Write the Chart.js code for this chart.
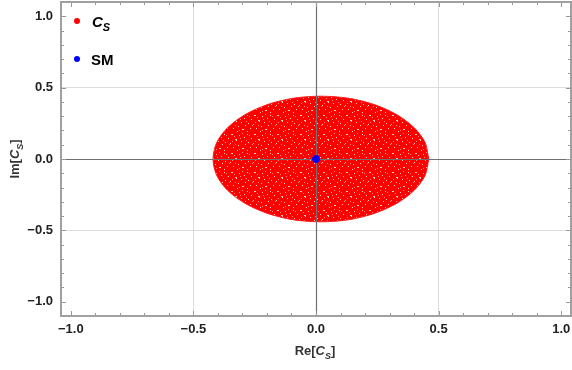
<!DOCTYPE html>
<html>
<head>
<meta charset="utf-8">
<script src="https://cdn.jsdelivr.net/npm/chart.js@4.4.1/dist/chart.umd.min.js"></script>
<style>
  html, body { margin: 0; padding: 0; background: #fff; }
  #wrap { width: 572px; height: 370px; }
</style>
</head>
<body>
<div id="wrap"><canvas id="chart" width="572" height="370"></canvas></div>
<script>
// --- data ---
// boundary of the scanned C_S region (Re, Im)
const regionRe = [0.46, 0.445, 0.40, 0.33, 0.24, 0.135, 0.02, -0.095, -0.20, -0.29, -0.36, -0.405, -0.42,
                  -0.405, -0.36, -0.29, -0.20, -0.095, 0.02, 0.135, 0.24, 0.33, 0.40, 0.445, 0.46];
const regionIm = [0.0, 0.115, 0.22, 0.31, 0.38, 0.425, 0.44, 0.425, 0.38, 0.31, 0.22, 0.115, 0.0,
                  -0.115, -0.22, -0.31, -0.38, -0.425, -0.44, -0.425, -0.38, -0.31, -0.22, -0.115, 0.0];
const smRe = [0.0];
const smIm = [0.0];

const xTickValues = [-1, -0.5, 0, 0.5, 1];
const xTickLabels = ['\u22121.0', '\u22120.5', '0.0', '0.5', '1.0'];
const yTickValues = [-1, -0.5, 0, 0.5, 1];
const yTickLabels = ['\u22121.0', '\u22120.5', '0.0', '0.5', '1.0'];

const FONT = '"Liberation Sans", Arial, sans-serif';

// speckled red fill, like a dense cloud of points
function speckle() {
    const c = document.createElement('canvas');
    c.width = 23; c.height = 19;
    const g = c.getContext('2d');
    g.fillStyle = '#ff0000';
    g.fillRect(0, 0, 23, 19);
    g.fillStyle = 'rgba(255,255,255,0.8)';
    [[1,1],[2,1],[9,2],[17,1],[14,4],[21,5],[5,6],[6,6],[6,7],[11,8],[18,9],[0,10],[8,12],[15,11],
     [3,14],[12,15],[13,15],[20,14],[7,17],[17,17]].forEach(p => g.fillRect(p[0], p[1], 1, 1));
    g.fillStyle = 'rgba(255,190,190,0.7)';
    [[4,3],[12,0],[16,7],[2,8],[10,5],[22,11],[9,16],[19,2],[5,11]].forEach(p => g.fillRect(p[0], p[1], 1, 1));
    return g.createPattern(c, 'repeat');
}

function sub(ctx, x, y, main, s, size, italic) {
    ctx.font = (italic ? 'italic ' : '') + 'bold ' + size + 'px ' + FONT;
    ctx.fillText(main, x, y);
    const w = ctx.measureText(main).width;
    ctx.font = (italic ? 'italic ' : '') + 'bold ' + Math.round(size * 0.72) + 'px ' + FONT;
    ctx.fillText(s, x + w, y + size * 0.28);
}

function richText(ctx, x, y, parts, size) {
    // parts: [text, italic, subscript]
    let total = 0;
    parts.forEach(p => {
        ctx.font = (p[1] ? 'italic ' : '') + 'bold ' + (p[2] ? Math.round(size * 0.72) : size) + 'px ' + FONT;
        total += ctx.measureText(p[0]).width;
    });
    let cx = x - total / 2;
    parts.forEach(p => {
        ctx.font = (p[1] ? 'italic ' : '') + 'bold ' + (p[2] ? Math.round(size * 0.72) : size) + 'px ' + FONT;
        ctx.fillText(p[0], cx, y + (p[2] ? size * 0.28 : 0));
        cx += ctx.measureText(p[0]).width;
    });
}

const framePlugin = {
    id: 'frame',
    beforeDatasetDraw(chart, args) {
        if (args.index !== 0) return;
        // zero axes over the cloud, under the SM point
        const { ctx, chartArea: a, scales: { x, y } } = chart;
        ctx.save();
        ctx.strokeStyle = '#707070';
        ctx.lineWidth = 1.2;
        ctx.beginPath();
        const x0 = Math.round(x.getPixelForValue(0)) + 0.5;
        const y0 = Math.round(y.getPixelForValue(0)) + 0.5;
        ctx.moveTo(x0, a.top); ctx.lineTo(x0, a.bottom);
        ctx.moveTo(a.left, y0); ctx.lineTo(a.right, y0);
        ctx.stroke();
        ctx.restore();
    },
    afterDraw(chart) {
        const { ctx, chartArea: a, scales: { x, y } } = chart;
        ctx.save();
        // inward ticks on all four sides
        ctx.strokeStyle = '#999';
        ctx.lineWidth = 1;
        ctx.beginPath();
        for (let i = -10; i <= 10; i++) {
            const v = i / 10;
            const len = i % 5 === 0 ? 5 : 3;
            const px = Math.round(x.getPixelForValue(v)) + 0.5;
            const py = Math.round(y.getPixelForValue(v)) + 0.5;
            ctx.moveTo(px, a.bottom); ctx.lineTo(px, a.bottom - len);
            ctx.moveTo(px, a.top); ctx.lineTo(px, a.top + len);
            ctx.moveTo(a.left, py); ctx.lineTo(a.left + len, py);
            ctx.moveTo(a.right, py); ctx.lineTo(a.right - len, py);
        }
        ctx.stroke();
        // frame
        ctx.strokeStyle = '#a0a0a0';
        ctx.lineWidth = 2;
        ctx.strokeRect(a.left, a.top, a.right - a.left, a.bottom - a.top);

        // in-plot legend
        ctx.fillStyle = '#ff0000';
        ctx.beginPath(); ctx.arc(77, 21, 3, 0, Math.PI * 2); ctx.fill();
        ctx.fillStyle = '#0000ff';
        ctx.beginPath(); ctx.arc(77, 59, 3, 0, Math.PI * 2); ctx.fill();
        ctx.fillStyle = '#000';
        ctx.textBaseline = 'alphabetic';
        ctx.textAlign = 'left';
        sub(ctx, 92, 27, 'C', 'S', 15, true);
        ctx.font = 'bold 15px ' + FONT;
        ctx.fillText('SM', 91, 65);

        // axis titles
        ctx.fillStyle = '#333';
        richText(ctx, (a.left + a.right) / 2 - 1, 355, [['Re[', false, false], ['C', true, false], ['S', true, true], [']', false, false]], 13);
        ctx.translate(19, (a.top + a.bottom) / 2);
        ctx.rotate(-Math.PI / 2);
        richText(ctx, 0, 0, [['Im[', false, false], ['C', true, false], ['S', true, true], [']', false, false]], 13);
        ctx.restore();
    }
};

function gridColor(c) {
    const v = c.tick ? c.tick.value : 0;
    return Math.abs(Math.abs(v) - 0.5) < 1e-9 ? '#dcdcdc' : 'rgba(0,0,0,0)';
}

new Chart(document.getElementById('chart'), {
    type: 'scatter',
    data: {
        datasets: [
            {
                label: 'SM',
                data: smRe.map((v, i) => ({ x: v, y: smIm[i] })),
                backgroundColor: '#0000ff',
                borderColor: '#0000ff',
                pointRadius: 3.5,
                pointHoverRadius: 3.5
            },
            {
                label: 'C_S',
                type: 'line',
                data: regionRe.map((v, i) => ({ x: v, y: regionIm[i] })),
                backgroundColor: speckle(),
                borderColor: '#ff1a1a',
                borderWidth: 1,
                pointRadius: 0,
                tension: 0.3,
                fill: 'shape'
            }
        ]
    },
    options: {
        responsive: false,
        animation: false,
        layout: { autoPadding: false, padding: { top: 2, right: 1, left: 0, bottom: 0 } },
        plugins: { legend: { display: false }, tooltip: { enabled: false } },
        scales: {
            x: {
                type: 'linear', min: -1.04, max: 1.04,
                afterBuildTicks: s => { s.ticks = xTickValues.map(v => ({ value: v })); },
                afterFit: s => { s.height = 54; s.paddingLeft = 0; s.paddingRight = 0; },
                grid: { color: gridColor, drawTicks: false, lineWidth: 1 },
                border: { display: false },
                ticks: {
                    padding: 6, color: '#222',
                    font: { family: FONT, size: 13, weight: 'bold' },
                    callback: (v, i) => xTickLabels[i]
                }
            },
            y: {
                type: 'linear', min: -1.1, max: 1.1,
                afterBuildTicks: s => { s.ticks = yTickValues.map(v => ({ value: v })); },
                afterFit: s => { s.width = 61; s.paddingTop = 0; s.paddingBottom = 0; },
                grid: { color: gridColor, drawTicks: false, lineWidth: 1 },
                border: { display: false },
                ticks: {
                    padding: 8, color: '#222',
                    font: { family: FONT, size: 13, weight: 'bold' },
                    callback: (v, i) => yTickLabels[i]
                }
            }
        }
    },
    plugins: [framePlugin]
});
</script>
</body>
</html>
